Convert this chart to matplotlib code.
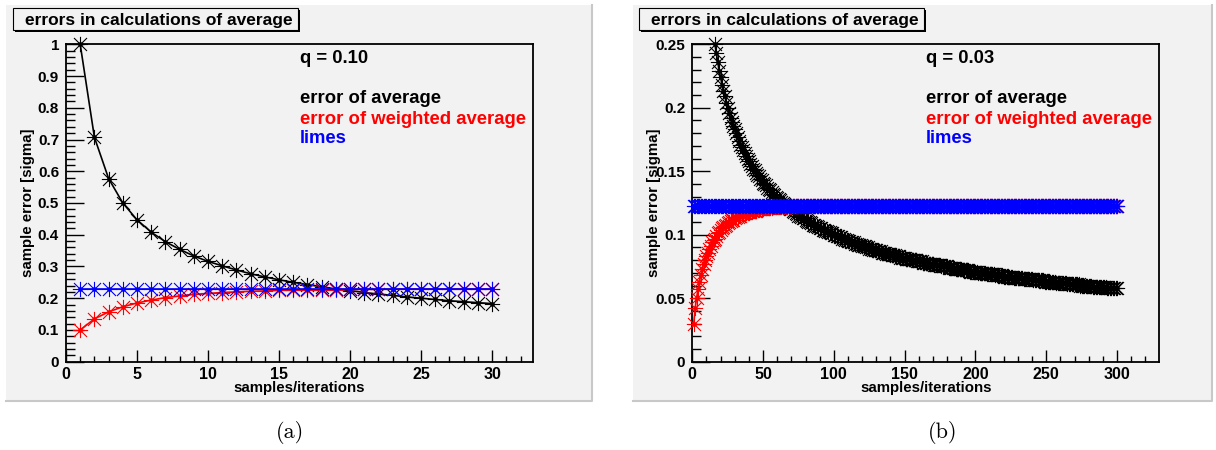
import matplotlib.pyplot as plt
import numpy as np
from matplotlib.patches import Rectangle
from matplotlib.path import Path
from matplotlib.ticker import MultipleLocator

plt.rcParams['font.family'] = ['Liberation Sans', 'DejaVu Sans']
plt.rcParams['font.weight'] = 'bold'

W, H = 1216, 450

# panel (a): q = 0.10, 30 samples
X_A = list(range(1, 31))
AVG_A = [1.000, 0.707, 0.577, 0.500, 0.447, 0.408, 0.378, 0.354, 0.333, 0.316,
         0.302, 0.289, 0.277, 0.267, 0.258, 0.250, 0.243, 0.236, 0.229, 0.224,
         0.218, 0.213, 0.209, 0.204, 0.200, 0.196, 0.192, 0.189, 0.186, 0.183]
WAVG_A = [0.100, 0.135, 0.157, 0.173, 0.185, 0.194, 0.202, 0.207, 0.212, 0.215,
          0.218, 0.220, 0.222, 0.223, 0.225, 0.225, 0.226, 0.227, 0.227, 0.228,
          0.228, 0.228, 0.229, 0.229, 0.229, 0.229, 0.229, 0.229, 0.229, 0.229]
LIMES_A = [0.229] * 30   # flat line

# panel (b): q = 0.03, 300 samples
X_B = list(range(1, 301))
AVG_B = [
    1.000, 0.707, 0.577, 0.500, 0.447, 0.408, 0.378, 0.354, 0.333, 0.316,
    0.302, 0.289, 0.277, 0.267, 0.258, 0.250, 0.243, 0.236, 0.229, 0.224,
    0.218, 0.213, 0.209, 0.204, 0.200, 0.196, 0.192, 0.189, 0.186, 0.183,
    0.180, 0.177, 0.174, 0.171, 0.169, 0.167, 0.164, 0.162, 0.160, 0.158,
    0.156, 0.154, 0.152, 0.151, 0.149, 0.147, 0.146, 0.144, 0.143, 0.141,
    0.140, 0.139, 0.137, 0.136, 0.135, 0.134, 0.132, 0.131, 0.130, 0.129,
    0.128, 0.127, 0.126, 0.125, 0.124, 0.123, 0.122, 0.121, 0.120, 0.120,
    0.119, 0.118, 0.117, 0.116, 0.115, 0.115, 0.114, 0.113, 0.113, 0.112,
    0.111, 0.110, 0.110, 0.109, 0.108, 0.108, 0.107, 0.107, 0.106, 0.105,
    0.105, 0.104, 0.104, 0.103, 0.103, 0.102, 0.102, 0.101, 0.101, 0.100,
    0.100, 0.099, 0.099, 0.098, 0.098, 0.097, 0.097, 0.096, 0.096, 0.095,
    0.095, 0.094, 0.094, 0.094, 0.093, 0.093, 0.092, 0.092, 0.092, 0.091,
    0.091, 0.091, 0.090, 0.090, 0.089, 0.089, 0.089, 0.088, 0.088, 0.088,
    0.087, 0.087, 0.087, 0.086, 0.086, 0.086, 0.085, 0.085, 0.085, 0.085,
    0.084, 0.084, 0.084, 0.083, 0.083, 0.083, 0.082, 0.082, 0.082, 0.082,
    0.081, 0.081, 0.081, 0.081, 0.080, 0.080, 0.080, 0.080, 0.079, 0.079,
    0.079, 0.079, 0.078, 0.078, 0.078, 0.078, 0.077, 0.077, 0.077, 0.077,
    0.076, 0.076, 0.076, 0.076, 0.076, 0.075, 0.075, 0.075, 0.075, 0.075,
    0.074, 0.074, 0.074, 0.074, 0.074, 0.073, 0.073, 0.073, 0.073, 0.073,
    0.072, 0.072, 0.072, 0.072, 0.072, 0.071, 0.071, 0.071, 0.071, 0.071,
    0.071, 0.070, 0.070, 0.070, 0.070, 0.070, 0.070, 0.069, 0.069, 0.069,
    0.069, 0.069, 0.069, 0.068, 0.068, 0.068, 0.068, 0.068, 0.068, 0.067,
    0.067, 0.067, 0.067, 0.067, 0.067, 0.067, 0.066, 0.066, 0.066, 0.066,
    0.066, 0.066, 0.066, 0.065, 0.065, 0.065, 0.065, 0.065, 0.065, 0.065,
    0.064, 0.064, 0.064, 0.064, 0.064, 0.064, 0.064, 0.064, 0.063, 0.063,
    0.063, 0.063, 0.063, 0.063, 0.063, 0.063, 0.062, 0.062, 0.062, 0.062,
    0.062, 0.062, 0.062, 0.062, 0.061, 0.061, 0.061, 0.061, 0.061, 0.061,
    0.061, 0.061, 0.061, 0.060, 0.060, 0.060, 0.060, 0.060, 0.060, 0.060,
    0.060, 0.060, 0.059, 0.059, 0.059, 0.059, 0.059, 0.059, 0.059, 0.059,
    0.059, 0.059, 0.058, 0.058, 0.058, 0.058, 0.058, 0.058, 0.058, 0.058,
]
WAVG_B = [
    0.030, 0.042, 0.050, 0.057, 0.063, 0.068, 0.073, 0.077, 0.080, 0.083,
    0.086, 0.089, 0.091, 0.094, 0.096, 0.097, 0.099, 0.101, 0.102, 0.104,
    0.105, 0.106, 0.107, 0.108, 0.109, 0.110, 0.111, 0.112, 0.112, 0.113,
    0.114, 0.114, 0.115, 0.115, 0.116, 0.116, 0.117, 0.117, 0.118, 0.118,
    0.118, 0.119, 0.119, 0.119, 0.119, 0.120, 0.120, 0.120, 0.120, 0.120,
    0.121, 0.121, 0.121, 0.121, 0.121, 0.121, 0.122, 0.122, 0.122, 0.122,
    0.122, 0.122, 0.122, 0.122, 0.122, 0.122, 0.122, 0.122, 0.122, 0.122,
    0.123, 0.123, 0.123, 0.123, 0.123, 0.123, 0.123, 0.123, 0.123, 0.123,
    0.123, 0.123, 0.123, 0.123, 0.123, 0.123, 0.123, 0.123, 0.123, 0.123,
    0.123, 0.123, 0.123, 0.123, 0.123, 0.123, 0.123, 0.123, 0.123, 0.123,
    0.123, 0.123, 0.123, 0.123, 0.123, 0.123, 0.123, 0.123, 0.123, 0.123,
    0.123, 0.123, 0.123, 0.123, 0.123, 0.123, 0.123, 0.123, 0.123, 0.123,
    0.123, 0.123, 0.123, 0.123, 0.123, 0.123, 0.123, 0.123, 0.123, 0.123,
    0.123, 0.123, 0.123, 0.123, 0.123, 0.123, 0.123, 0.123, 0.123, 0.123,
    0.123, 0.123, 0.123, 0.123, 0.123, 0.123, 0.123, 0.123, 0.123, 0.123,
    0.123, 0.123, 0.123, 0.123, 0.123, 0.123, 0.123, 0.123, 0.123, 0.123,
    0.123, 0.123, 0.123, 0.123, 0.123, 0.123, 0.123, 0.123, 0.123, 0.123,
    0.123, 0.123, 0.123, 0.123, 0.123, 0.123, 0.123, 0.123, 0.123, 0.123,
    0.123, 0.123, 0.123, 0.123, 0.123, 0.123, 0.123, 0.123, 0.123, 0.123,
    0.123, 0.123, 0.123, 0.123, 0.123, 0.123, 0.123, 0.123, 0.123, 0.123,
    0.123, 0.123, 0.123, 0.123, 0.123, 0.123, 0.123, 0.123, 0.123, 0.123,
    0.123, 0.123, 0.123, 0.123, 0.123, 0.123, 0.123, 0.123, 0.123, 0.123,
    0.123, 0.123, 0.123, 0.123, 0.123, 0.123, 0.123, 0.123, 0.123, 0.123,
    0.123, 0.123, 0.123, 0.123, 0.123, 0.123, 0.123, 0.123, 0.123, 0.123,
    0.123, 0.123, 0.123, 0.123, 0.123, 0.123, 0.123, 0.123, 0.123, 0.123,
    0.123, 0.123, 0.123, 0.123, 0.123, 0.123, 0.123, 0.123, 0.123, 0.123,
    0.123, 0.123, 0.123, 0.123, 0.123, 0.123, 0.123, 0.123, 0.123, 0.123,
    0.123, 0.123, 0.123, 0.123, 0.123, 0.123, 0.123, 0.123, 0.123, 0.123,
    0.123, 0.123, 0.123, 0.123, 0.123, 0.123, 0.123, 0.123, 0.123, 0.123,
    0.123, 0.123, 0.123, 0.123, 0.123, 0.123, 0.123, 0.123, 0.123, 0.123,
]
LIMES_B = [0.123] * 300   # flat line

TITLE = "errors in calculations of average"
LEGEND = [("error of average", "black"),
          ("error of weighted average", "red"),
          ("limes", "blue")]

BG = "#f2f2f2"

# ROOT "*" marker: a + and an x on top of each other
d = 0.85
STAR = Path([(-1, 0), (1, 0), (0, -1), (0, 1), (-d, -d), (d, d), (-d, d), (d, -d)],
            [Path.MOVETO, Path.LINETO] * 4)


def fx(x):
    return x / W


def fy(y):
    return 1 - y / H


def panel(fig, box, axbox, titlebox, x, avg, wavg, limes, xmax, ymax,
          ymaj, ymin, xmaj, xmin, qtext):
    # canvas background (behind the axes)
    x0, y0, x1, y1 = box
    fig.patches.append(Rectangle((fx(x0), fy(y1)), fx(x1 - x0), (y1 - y0) / H,
                                 transform=fig.transFigure, facecolor=BG,
                                 edgecolor="none", zorder=-2))
    fig.lines.append(plt.Line2D([fx(x0), fx(x1), fx(x1)], [fy(y1), fy(y1), fy(y0)],
                                transform=fig.transFigure, color="#c8c8c8", lw=1.5,
                                zorder=-1))

    a0, b0, a1, b1 = axbox
    ax = fig.add_axes([fx(a0), fy(b1), fx(a1 - a0), (b1 - b0) / H])
    ax.set_facecolor(BG)
    ax.set_xlim(0, xmax)
    ax.set_ylim(0, ymax)

    series = [(avg, "black", 3), (wavg, "red", 4), (limes, "blue", 5)]
    for vals, col, z in series:
        xs = np.array(x)
        ys = np.array(vals)
        keep = ys <= ymax + 1e-9
        ax.plot(xs[keep], ys[keep], color=col, lw=1.2, marker=STAR, ms=11,
                mew=0.8, clip_on=False, zorder=z)
        ax.plot(xs[keep], ys[keep], ls="none", color=col, marker="o", ms=2.4,
                clip_on=False, zorder=z)

    ax.yaxis.set_major_locator(MultipleLocator(ymaj))
    ax.yaxis.set_minor_locator(MultipleLocator(ymin))
    ax.xaxis.set_major_locator(MultipleLocator(xmaj))
    ax.xaxis.set_minor_locator(MultipleLocator(xmin))
    ax.yaxis.set_major_formatter(plt.FuncFormatter(lambda v, p: f"{v:g}"))
    ax.tick_params(axis="y", which="major", direction="in", length=13, width=1,
                   labelsize=11, pad=5)
    ax.tick_params(axis="y", which="minor", direction="in", length=6.5, width=1)
    ax.tick_params(axis="x", which="major", direction="in", length=9, width=1,
                   labelsize=11.5, pad=4)
    ax.tick_params(axis="x", which="minor", direction="in", length=4.5, width=1)
    for s in ax.spines.values():
        s.set_linewidth(1.3)

    ax.set_xlabel("samples/iterations", fontsize=10.8, fontweight="bold")
    ax.set_ylabel("sample error [sigma]", fontsize=10.8, fontweight="bold")
    ax.xaxis.set_label_coords(0.5, -0.082)
    ax.xaxis.label.set_va("center")
    ax.yaxis.set_label_coords(-0.081, 0.5)
    ax.yaxis.label.set_va("center")

    ax.text(0.5, 0.94, qtext, transform=ax.transAxes, fontsize=13.3,
            fontweight="bold", va="baseline")
    for (label, col), yy in zip(LEGEND, [0.814, 0.748, 0.688]):
        ax.text(0.5, yy, label, transform=ax.transAxes, fontsize=13.3,
                fontweight="bold", color=col, va="baseline")

    # title pave with shadow
    t0, s0, t1, s1 = titlebox
    fig.patches.append(Rectangle((fx(t0 + 2), fy(s1 + 2)), fx(t1 - t0), (s1 - s0) / H,
                                 transform=fig.transFigure, facecolor="black",
                                 edgecolor="none", zorder=1))
    fig.patches.append(Rectangle((fx(t0), fy(s1)), fx(t1 - t0), (s1 - s0) / H,
                                 transform=fig.transFigure, facecolor=BG,
                                 edgecolor="black", lw=0.8, zorder=2))
    fig.text(fx(t0 + 12), fy((s0 + s1) / 2 + 1), TITLE, fontsize=12.5,
             fontweight="bold", va="center", ha="left", zorder=3)
    return ax


fig = plt.figure(figsize=(W / 100, H / 100), dpi=100)

panel(fig, (6, 5, 591.7, 401), (66, 44.3, 533.3, 361.7), (12.7, 8, 298, 30),
      X_A, AVG_A, WAVG_A, LIMES_A, 32.9, 1.0, 0.1, 0.02, 5, 1, "q = 0.10")
panel(fig, (633.3, 5, 1212, 401), (692.3, 44.3, 1159.3, 361.7), (639.3, 8, 924, 30),
      X_B, AVG_B, WAVG_B, LIMES_B, 329.9, 0.25, 0.05, 0.01, 50, 10, "q = 0.03")

fig.text(fx(290), fy(433), "(a)", family="cmr10", fontsize=16, ha="center", va="center")
fig.text(fx(943), fy(433), "(b)", family="cmr10", fontsize=16, ha="center", va="center")

fig.savefig("out.png", dpi=100)
